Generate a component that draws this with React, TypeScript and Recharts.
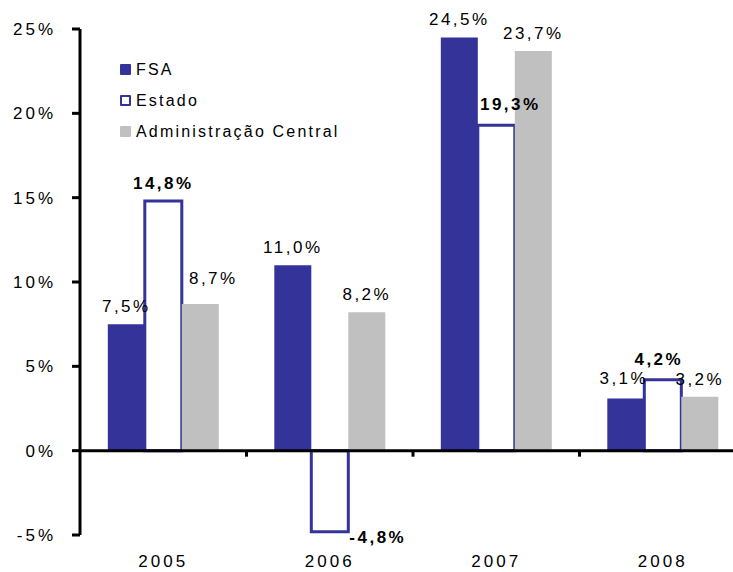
import React from 'react';
import { BarChart, Bar, XAxis, YAxis, ReferenceLine, LabelList, Legend } from 'recharts';

const years = ['2005', '2006', '2007', '2008'];
const fsa = [7.5, 11.0, 24.5, 3.1];
const estado = [14.8, -4.8, 19.3, 4.2];
const adminCentral = [8.7, 8.2, 23.7, 3.2];
const yTicks = [-5, 0, 5, 10, 15, 20, 25];
const seriesNames = { fsa: 'FSA', estado: 'Estado', admin: 'Administração Central' };

const data = years.map((year, i) => ({
  year,
  fsa: fsa[i],
  estado: estado[i],
  admin: adminCentral[i],
}));

const FONT = '"Liberation Sans", Arial, sans-serif';
const BLUE = '#333399';
const GRAY = '#C0C0C0';

// small relative nudges of individual labels (as placed in the original)
const labelNudges: Record<string, [number, number]> = {
  'admin-0': [13, -8],
  'estado-2': [14, -3],
  'estado-3': [-4, -3],
  'fsa-3': [-2, -2],
};

const fmt = (v: number) => v.toFixed(1).replace('.', ',') + '%';

function makeLabel(key: string, bold: boolean) {
  return (props: any) => {
    const vb = props.viewBox || {};
    const x = Number(props.x ?? vb.x);
    const y = Number(props.y ?? vb.y);
    const width = Number(props.width ?? vb.width);
    const height = Number(props.height ?? vb.height);
    const v = Number(props.value);
    const index = props.index;
    const top = Math.min(y, y + height);
    const bottom = Math.max(y, y + height);
    const style: React.CSSProperties = {
      fontFamily: FONT,
      fontSize: 17,
      fontWeight: bold ? 700 : 400,
      letterSpacing: 2.5,
    };
    if (v < 0) {
      return (
        <text x={x + width + 1} y={bottom + 11} textAnchor="start" fill="#000" style={style}>
          {fmt(v)}
        </text>
      );
    }
    const [dx, dy] = labelNudges[`${key}-${index}`] || [0, 0];
    return (
      <text x={x + width / 2 + dx} y={top - 12 + dy} textAnchor="middle" fill="#000" style={style}>
        {fmt(v)}
      </text>
    );
  };
}

const YTick = (props: any) => {
  const { x, y, payload } = props;
  return (
    <text x={x} y={y} dy="0.355em" textAnchor="end" fill="#000"
      style={{ fontFamily: FONT, fontSize: 17, letterSpacing: 3 }}>
      {`${payload.value}%`}
    </text>
  );
};

const XTick = (props: any) => {
  const { x, y, payload } = props;
  return (
    <text x={x} y={y} dy="0.71em" textAnchor="middle" fill="#000"
      style={{ fontFamily: FONT, fontSize: 17, letterSpacing: 3 }}>
      {payload.value}
    </text>
  );
};

const ZeroAxis = (props: any) => {
  const x1 = Number(props.x1);
  const x2 = Number(props.x2);
  const y1 = Number(props.y1);
  const n = years.length;
  const w = (x2 - x1) / n;
  const ticks = [];
  for (let k = 1; k < n; k++) ticks.push(x1 + k * w);
  return (
    <g>
      <line x1={x1} y1={y1} x2={x2} y2={y1} stroke="#000" strokeWidth={3} />
      {ticks.map((tx, i) => (
        <line key={i} x1={tx} x2={tx} y1={y1} y2={y1 + 6} stroke="#000" strokeWidth={3} />
      ))}
    </g>
  );
};

const legendItems = [
  { name: seriesNames.fsa, fill: BLUE, border: false },
  { name: seriesNames.estado, fill: '#fff', border: true },
  { name: seriesNames.admin, fill: GRAY, border: false },
];

const renderLegend = () => (
  <div style={{ fontFamily: FONT, fontSize: 16, letterSpacing: 2.2, color: '#000' }}>
    {legendItems.map((item) => (
      <div key={item.name} style={{ display: 'flex', alignItems: 'center', height: 31, whiteSpace: 'nowrap' }}>
        <span
          style={{
            display: 'inline-block',
            width: 11,
            height: 11,
            boxSizing: 'border-box',
            background: item.fill,
            border: item.border ? `2.5px solid ${BLUE}` : 'none',
            borderRadius: 1,
            marginRight: 5,
          }}
        />
        <span>{item.name}</span>
      </div>
    ))}
  </div>
);

export default function App() {
  return (
    <div style={{ position: 'absolute', left: 0, top: 0, width: 733, height: 572, overflow: 'hidden', background: '#fff' }}>
      <BarChart
        width={760}
        height={572}
        data={data}
        margin={{ top: 29, right: 14, bottom: 7, left: 0 }}
        barCategoryGap="16.7%"
        barGap={0}
      >
        <XAxis
          dataKey="year"
          axisLine={false}
          tickLine={false}
          tickSize={0}
          tickMargin={20}
          height={30}
          interval={0}
          tick={<XTick />}
        />
        <YAxis
          type="number"
          domain={[-5, 25]}
          ticks={yTicks}
          interval={0}
          width={80}
          axisLine={{ stroke: '#000', strokeWidth: 3 }}
          tickLine={{ stroke: '#000', strokeWidth: 3 }}
          tickSize={8}
          tickMargin={16}
          tick={<YTick />}
        />
        <Legend
          layout="horizontal"
          verticalAlign="middle"
          align="center"
          content={renderLegend}
          wrapperStyle={{ left: 120, top: 54, width: 'auto' }}
        />
        <Bar dataKey="fsa" name={seriesNames.fsa} fill={BLUE} isAnimationActive={false}>
          <LabelList dataKey="fsa" content={makeLabel('fsa', false)} />
        </Bar>
        <Bar dataKey="estado" name={seriesNames.estado} fill="#fff" stroke={BLUE} strokeWidth={3} isAnimationActive={false}>
          <LabelList dataKey="estado" content={makeLabel('estado', true)} />
        </Bar>
        <Bar dataKey="admin" name={seriesNames.admin} fill={GRAY} isAnimationActive={false}>
          <LabelList dataKey="admin" content={makeLabel('admin', false)} />
        </Bar>
        <ReferenceLine y={0} shape={ZeroAxis} />
      </BarChart>
    </div>
  );
}
